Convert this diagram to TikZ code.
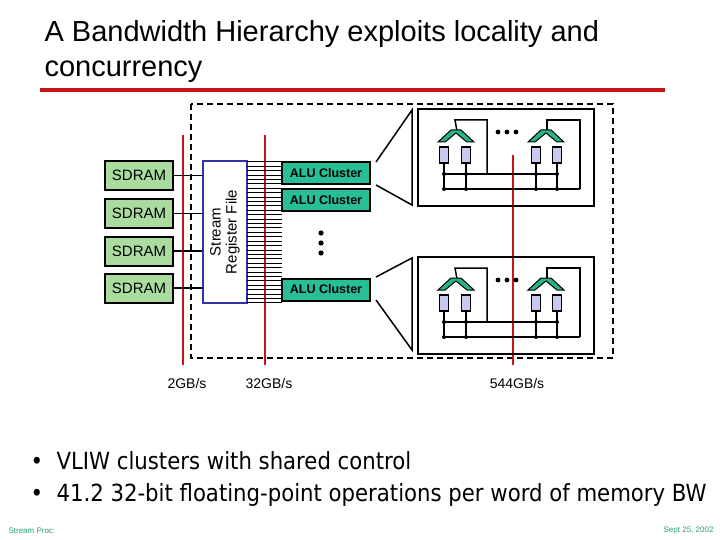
\documentclass[tikz,border=0pt]{standalone}
\usepackage{fontspec}
\setmainfont{Liberation Sans}
\newfontfamily\tahoma{DejaVu Sans Condensed}
\begin{document}
\begin{tikzpicture}[x=1pt,y=-1pt,
  sd/.style={draw=black,line width=2pt,fill={rgb,255:red,170;green,220;blue,160},minimum width=68pt,minimum height=29pt,inner sep=0pt,font=\fontsize{15}{15}\selectfont},
  alu/.style={draw=black,line width=2pt,fill={rgb,255:red,40;green,190;blue,150},minimum width=88pt,minimum height=22pt,inner sep=0pt,font=\bfseries\fontsize{12.5}{12.5}\selectfont},
  red/.style={draw={rgb,255:red,200;green,20;blue,20},line width=2.2pt},
  thick/.style={line width=1.5pt},
  reg/.style={draw=black,line width=1.2pt,fill={rgb,255:red,200;green,200;blue,240}},
  chev/.style={draw=black,line width=1pt,fill={rgb,255:red,40;green,180;blue,130}}]
\useasboundingbox (0,0) rectangle (720,540);
% title
\node[anchor=west,font=\fontsize{29}{29}\selectfont] (t1) at (41,34) {A Bandwidth Hierarchy exploits locality and};
\node[anchor=west,font=\fontsize{29}{29}\selectfont] (t2) at (41,72) {concurrency};
\draw[red,line width=4pt] (40,90) -- (665,90);
% dashed box
\draw[line width=2pt,dash pattern=on 6pt off 4pt] (191,104) rectangle (613,358);
% red lines
\draw[red] (183,135) -- (183,365);
\draw[red] (265,135) -- (265,365);
\draw[red] (513,155) -- (513,365);
% SDRAMs
\foreach \i/\y in {1/175.5,2/213.5,3/251,4/288}{
  \node[sd] (s\i) at (139,\y) {SDRAM};
}
\node[draw={rgb,255:red,50;green,50;blue,170},line width=2pt,fill=white,minimum width=44pt,minimum height=142pt,inner sep=0pt] (srf) at (225,232) {};
\node[rotate=90,align=center,font=\fontsize{15}{16}\selectfont] (srft) at (225,232) {Stream\\Register File};
\foreach \i in {1,...,4}{ \draw[thick] (s\i.east) -- (s\i.east -| srf.west); }
% wires
\foreach \k in {0,...,32}{ \draw[line width=1pt] (247,{162+\k*4.4}) -- (282,{162+\k*4.4}); }
\node[alu] (a1) at (326,173.5) {ALU Cluster};
\node[alu] (a2) at (326,200) {ALU Cluster};
\node[alu] (a3) at (326,289.5) {ALU Cluster};
\foreach \y in {233,243,253}{ \fill (321,\y) circle (2.6pt); }
% bracket lines
\draw[thick] (376,162) -- (412,110) -- (412,205) -- (376,185);
\draw[thick] (376,277) -- (412,258) -- (412,350) -- (376,300);
% clusters
\foreach \dy in {0,148}{
\begin{scope}[yshift={-\dy}]
\draw[line width=1.5pt] (418,109) rectangle (594,206);
\draw[line width=1.5pt] (457,131) -- (455,120) -- (487,120) -- (487,174);
\draw[line width=1.5pt] (547,131) -- (547,120) -- (580,120) -- (580,189);
\draw[line width=1.5pt] (444,174) -- (557,174);
\draw[line width=1.5pt] (444,189) -- (580,189);
\foreach \x in {444,466,536,557}{
  \draw[line width=1.5pt] (\x,160) -- (\x,189);
  \fill (\x,174) circle (2pt); \fill (\x,189) circle (2pt);
  \draw[reg] (\x-4.5,147) rectangle (\x+4.5,163);
}
\foreach \c in {456,546}{
  \draw[chev] (\c-18,142) -- (\c-5,130) -- (\c+5,130) -- (\c+18,142) -- (\c+11,142) -- (\c,133) -- (\c-11,142) -- cycle;
}
\foreach \x in {498,507,516}{ \fill (\x,132) circle (2.4pt); }
\end{scope}
}
% labels
\node[anchor=east,font=\fontsize{14}{14}\selectfont] (l1) at (210,383) {2GB/s};
\node[font=\fontsize{14}{14}\selectfont] (l2) at (269,383) {32GB/s};
\node[font=\fontsize{14}{14}\selectfont] (l3) at (517,383) {544GB/s};
% bullets
\node[anchor=west,font=\tahoma\fontsize{23.6}{24}\selectfont] (b1) at (27,461) {\textbullet\ \ VLIW clusters with shared control};
\node[anchor=west,font=\tahoma\fontsize{23.6}{24}\selectfont] (b2) at (27,495) {\textbullet\ \ 41.2 32-bit floating-point operations per word of memory BW};
\node[anchor=west,text={rgb,255:red,40;green,160;blue,110},font=\fontsize{8}{8}\selectfont] (f1) at (5,531) {Stream Proc:};
\node[anchor=east,text={rgb,255:red,40;green,160;blue,110},font=\fontsize{8}{8}\selectfont] (f2) at (717,531) {Sept 25, 2002};
\end{tikzpicture}
\end{document}
